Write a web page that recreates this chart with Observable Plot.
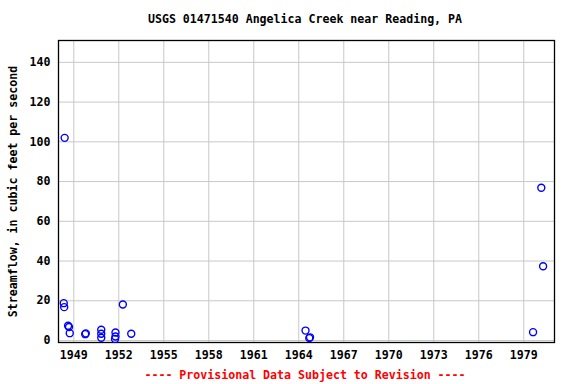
<!DOCTYPE html>
<html>
<head>
<meta charset="utf-8">
<script src="https://cdn.jsdelivr.net/npm/d3@7"></script>
<script src="https://cdn.jsdelivr.net/npm/@observablehq/plot@0.6"></script>
<style>
  html, body { margin: 0; padding: 0; background: #fff; }
  #wrap { width: 576px; height: 384px; overflow: hidden; font-family: "DejaVu Sans Mono", monospace; font-weight: bold; }
  #title { height: 30px; line-height: 38px; text-align: center; font-size: 11.6px; color: #000; padding-left: 34px; box-sizing: border-box; }
  #foot { height: 20px; line-height: 22px; text-align: center; font-size: 11.6px; color: #ff0000; padding-left: 34px; box-sizing: border-box; }
  svg { display: block; }
</style>
</head>
<body>
<div id="wrap">
  <div id="title">USGS 01471540 Angelica Creek near Reading, PA</div>
  <div id="chart"></div>
  <div id="foot">---- Provisional Data Subject to Revision ----</div>
</div>
<script>
// Decimal year of each measurement
const years = [1948.39, 1948.33, 1948.36, 1948.62, 1948.68, 1948.73, 1949.76, 1949.80,
               1950.83, 1950.83, 1950.83, 1951.78, 1951.78, 1951.75, 1952.27, 1952.83,
               1964.45, 1964.70, 1964.75, 1979.62, 1980.17, 1980.29];
// Streamflow, cubic feet per second
const flows = [102, 18.8, 16.8, 7.4, 6.8, 3.7, 3.2, 3.6,
               5.4, 3.4, 1.4, 4.0, 2.0, 0.8, 18.1, 3.4,
               5.0, 1.2, 1.6, 4.2, 76.9, 37.4];
const xTicks = [1949, 1952, 1955, 1958, 1961, 1964, 1967, 1970, 1973, 1976, 1979];
const yTicks = [0, 20, 40, 60, 80, 100, 120, 140];

const data = years.map((y, i) => ({year: y, flow: flows[i]}));

const chart = Plot.plot({
  width: 576,
  height: 334,
  marginTop: 10,
  marginBottom: 22,
  marginLeft: 58,
  marginRight: 22,
  style: {fontFamily: "DejaVu Sans Mono, monospace", fontWeight: "bold", fontSize: "11.6px", color: "#000", background: "#fff"},
  x: {domain: [1947.98, 1981.05]},
  y: {domain: [-1, 151]},
  marks: [
    Plot.gridX(xTicks, {stroke: "#c8c8c8", strokeOpacity: 1, strokeWidth: 1}),
    Plot.gridY(yTicks, {stroke: "#c8c8c8", strokeOpacity: 1, strokeWidth: 1}),
    Plot.axisX(xTicks, {tickSize: 0, tickPadding: 8, tickFormat: d => String(d), label: null}),
    Plot.axisY(yTicks, {tickSize: 0, tickPadding: 8, label: "Streamflow, in cubic feet per second",
      labelAnchor: "center", labelArrow: "none", labelOffset: 50}),
    Plot.frame({stroke: "#000", strokeWidth: 1.3}),
    Plot.dot(data, {x: "year", y: "flow", r: 3.5, stroke: "#0000ff", strokeWidth: 1.4, fill: "none"})
  ]
});
document.getElementById("chart").appendChild(chart);
</script>
</body>
</html>
